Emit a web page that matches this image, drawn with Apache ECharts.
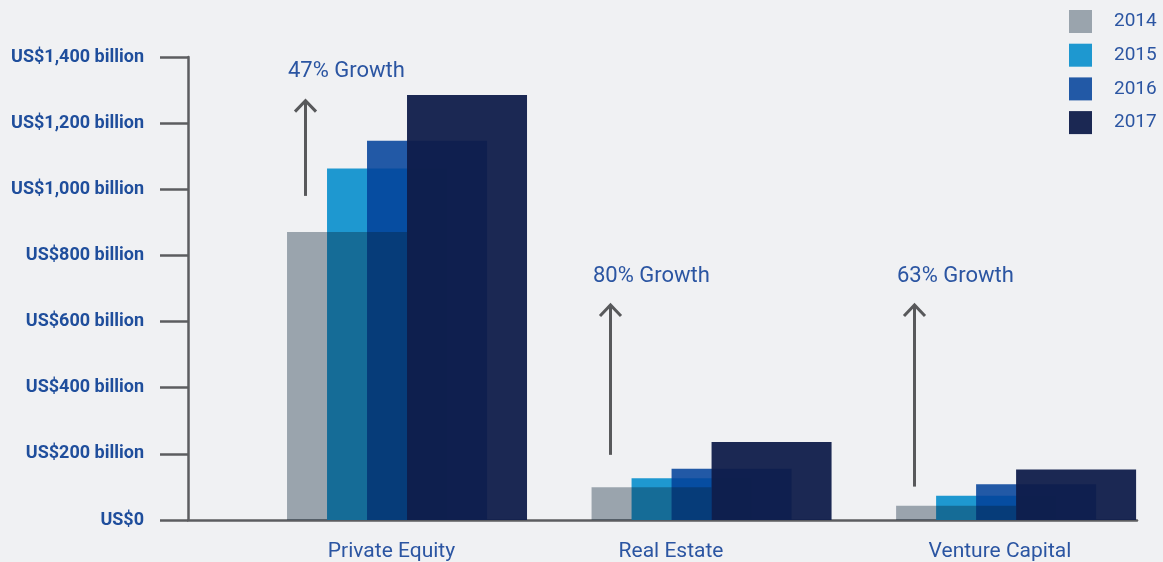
<!DOCTYPE html>
<html>
<head>
<meta charset="utf-8">
<script src="https://cdn.jsdelivr.net/npm/echarts@6/dist/echarts.min.js"></script>
<style>
html,body{margin:0;padding:0;background:#f0f1f3;}
#chart{width:1163px;height:562px;}
</style>
</head>
<body>
<div id="chart"></div>
<script>
// ---- data ----
const categories = ['Private Equity', 'Real Estate', 'Venture Capital'];
const years = ['2014', '2015', '2016', '2017'];
const v2014 = [871, 99, 43];
const v2015 = [1063, 126, 73];
const v2016 = [1147, 155, 108];
const v2017 = [1285, 236, 153];
const yTickLabels = ['US$0', 'US$200 billion', 'US$400 billion', 'US$600 billion',
  'US$800 billion', 'US$1,000 billion', 'US$1,200 billion', 'US$1,400 billion'];
const growthLabels = ['47% Growth', '80% Growth', '63% Growth'];
const arrowFrom = [980, 197, 101];
const arrowTo = [1268, 650, 650];

// ---- layout / style ----
const catLabelPos = [-0.051, 0.867, 1.947];
const yearColors = ['rgba(8,33,54,0.37)', '#1e98d0', 'rgba(4,65,154,0.87)', 'rgba(15,28,74,0.95)'];
const yearZ = [4, 2, 3, 5];
const textBlue = '#2b55a2';
const axisGrey = '#5c5d60';
const FONT = 'Roboto, "Noto Sans", sans-serif';

const seriesValues = [v2014, v2015, v2016, v2017];
const barSeries = years.map((y, k) => ({
  name: y,
  type: 'bar',
  z: yearZ[k],
  barWidth: 120,
  barGap: '-66.6667%',
  itemStyle: { color: yearColors[k] },
  data: seriesValues[k].map((v, i) => [i, v])
}));

const arrowSeries = {
  type: 'custom',
  z: 10,
  silent: true,
  encode: { x: 0, y: [1, 2] },
  data: categories.map((c, i) => [i, arrowFrom[i], arrowTo[i]]),
  renderItem: function (params, api) {
    const i = params.dataIndex;
    const pb = api.coord([api.value(0), api.value(1)]);
    const pt = api.coord([api.value(0), api.value(2)]);
    const ax = Math.round(pb[0] - 102) + 0.5;
    return {
      type: 'group',
      children: [
        { type: 'line', shape: { x1: ax, y1: pb[1], x2: ax, y2: pt[1] + 1 },
          style: { stroke: '#58595b', lineWidth: 3 } },
        { type: 'polyline', shape: { points: [[ax - 10.5, pt[1] + 11], [ax, pt[1]], [ax + 10.5, pt[1] + 11]] },
          style: { stroke: '#58595b', lineWidth: 3, fill: null, lineJoin: 'miter' } },
        { type: 'text', style: { text: growthLabels[i], x: ax - 17.5, y: pt[1] - 29,
          align: 'left', verticalAlign: 'middle', fill: textBlue,
          fontSize: 22, fontFamily: FONT } }
      ]
    };
  }
};

const chart = echarts.init(document.getElementById('chart'), null, { renderer: 'canvas' });
chart.setOption({
  animation: false,
  backgroundColor: '#f0f1f3',
  textStyle: { fontFamily: FONT },
  legend: {
    orient: 'vertical',
    left: 1069,
    top: 10,
    padding: 0,
    itemWidth: 23,
    itemHeight: 23,
    itemGap: 10.7,
    icon: 'rect',
    data: years,
    selectedMode: false,
    textStyle: { color: textBlue, fontSize: 19, fontFamily: FONT, padding: [0, 0, 0, 17] }
  },
  grid: { left: 188, right: 26, top: 57, bottom: 42, containLabel: false },
  xAxis: {
    type: 'value',
    min: -0.7192,
    max: 2.397,
    axisLine: { show: true, onZero: false, lineStyle: { color: axisGrey, width: 2.5 } },
    axisTick: { show: false },
    splitLine: { show: false },
    axisLabel: {
      show: true,
      customValues: catLabelPos,
      margin: 21,
      color: textBlue,
      fontSize: 21,
      fontFamily: FONT,
      formatter: function (v) { return categories[Math.round(v)] || ''; }
    }
  },
  yAxis: {
    type: 'value',
    min: 0,
    max: 1400,
    interval: 200,
    axisLine: { show: true, onZero: false, lineStyle: { color: axisGrey, width: 2.5 } },
    axisTick: { show: true, inside: false, length: 28, lineStyle: { color: axisGrey, width: 2.5 } },
    splitLine: { show: false },
    axisLabel: {
      margin: 44,
      color: '#1f4e9c',
      fontSize: 18,
      fontWeight: 'bold',
      fontFamily: FONT,
      formatter: function (v) { return yTickLabels[Math.round(v / 200)]; }
    }
  },
  series: barSeries.concat([arrowSeries])
});
</script>
</body>
</html>
